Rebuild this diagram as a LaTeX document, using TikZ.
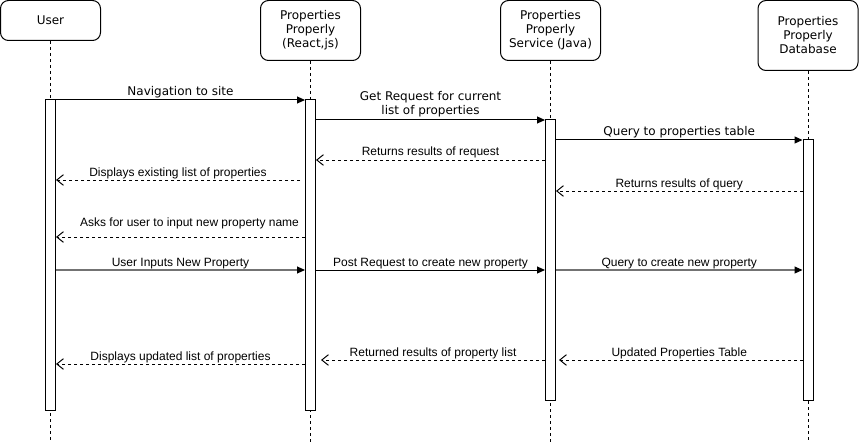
\documentclass[tikz,border=0pt]{standalone}
\usepackage{fontspec}
\setmainfont{Liberation Sans}
\newfontfamily\dvfont{DejaVu Sans}
\usetikzlibrary{arrows.meta}
\begin{document}
\begin{tikzpicture}[x=0.75pt,y=-0.75pt,
  actor/.style={draw, rounded corners=6pt, line width=0.75pt, minimum width=75pt, align=center, font=\dvfont\fontsize{9}{10.5}\selectfont, inner sep=0pt},
  life/.style={draw, line width=0.75pt, dash pattern=on 2.25pt off 2.25pt},
  act/.style={draw, fill=white, line width=0.75pt, minimum width=7.5pt, inner sep=0pt},
  call/.style={line width=0.75pt, -{Triangle[length=6pt,width=5.25pt,color=black,fill=black,line width=0.75pt]}},
  callgray/.style={call, draw=black!55, line width=1.1pt},
  ret/.style={line width=0.75pt, dash pattern=on 2.25pt off 2.25pt, -{Straight Barb[length=5pt,width=8pt]}},
  lbl/.style={anchor=base, inner sep=0pt, yshift=3pt, font=\fontsize{9}{10.5}\selectfont},
  lbld/.style={lbl, font=\dvfont\fontsize{9}{10.5}\selectfont},
  lbltwo/.style={anchor=south, inner sep=0pt, yshift=2.25pt, align=center, font=\dvfont\fontsize{9}{10.5}\selectfont},
]
\useasboundingbox (0,0) rectangle (859,442);

% actors
\node[actor, minimum height=30pt] (user) at (50.5,20.5) {User};
\node[actor, minimum height=45pt] (react) at (310.5,30.5) {Properties\\Properly\\(React,js)};
\node[actor, minimum height=45pt] (svc) at (550.5,30.5) {Properties\\Properly\\Service (Java)};
\node[actor, minimum height=52.5pt] (db) at (808,35.5) {Properties\\Properly\\Database};

% lifeline ends
\coordinate (userEnd) at (50.5,442);
\coordinate (reactEnd) at (310.5,442);
\coordinate (svcEnd) at (550.5,442);
\coordinate (dbEnd) at (808,442);

\draw[life] (user.south) -- (userEnd);
\draw[life] (react.south) -- (reactEnd);
\draw[life] (svc.south) -- (svcEnd);
\draw[life] (db.south) -- (dbEnd);

% activation bars
\node[act, minimum height=232.5pt] (aU) at (50.5,255) {};
\node[act, minimum height=232.5pt] (aR) at (310.5,255) {};
\node[act, minimum height=210pt] (aS) at (550.5,260) {};
\node[act, minimum height=195pt] (aD) at (808,270) {};

% message rows
\coordinate (r1) at (0,100);
\coordinate (r2) at (0,120);
\coordinate (r3) at (0,140);
\coordinate (r4) at (0,160);
\coordinate (r5) at (0,180);
\coordinate (r6) at (0,191);
\coordinate (r7) at (0,237);
\coordinate (r8) at (0,270);
\coordinate (r9) at (0,360);
\coordinate (r10) at (0,364);

% messages
\draw[call] (aU.east |- r1) -- node[lbld]{Navigation to site} (aR.west |- r1);
\draw[call] (aR.east |- r2) -- node[lbltwo]{Get Request for current\\list of properties} (aS.west |- r2);
\draw[call] (aS.east |- r3) -- node[lbld]{Query to properties table} (aD.west |- r3);
\draw[ret] (aS.west |- r4) -- node[lbl]{Returns results of request} (aR.east |- r4);
\draw[ret, shorten <=3.75pt] (aR.west |- r5) -- node[lbl, xshift=-1.9pt]{Displays existing list of properties} (aU.east |- r5);
\draw[ret] (aD.west |- r6) -- node[lbl]{Returns results of query} (aS.east |- r6);
\draw[ret] (aR.west |- r7) -- node[lbl, xshift=6.75pt, yshift=5.25pt]{Asks for user to input new property name} (aU.east |- r7);
\draw[callgray] (aU.east |- r8) -- node[lbl]{User Inputs New Property} (aR.west |- r8);
\draw[call] (aR.east |- r8) -- node[lbl]{Post Request to create new property} (aS.west |- r8);
\draw[callgray] (aS.east |- r8) -- node[lbl]{Query to create new property} (aD.west |- r8);
\draw[ret, shorten >=3.75pt] (aS.west |- r9) -- node[lbl, xshift=1.9pt]{Returned results of property list} (aR.east |- r9);
\draw[ret, shorten >=2.25pt] (aD.west |- r9) -- node[lbl]{Updated Properties Table} (aS.east |- r9);
\draw[ret] (aR.west |- r10) -- node[lbl]{Displays updated list of properties} (aU.east |- r10);
\end{tikzpicture}
\end{document}
